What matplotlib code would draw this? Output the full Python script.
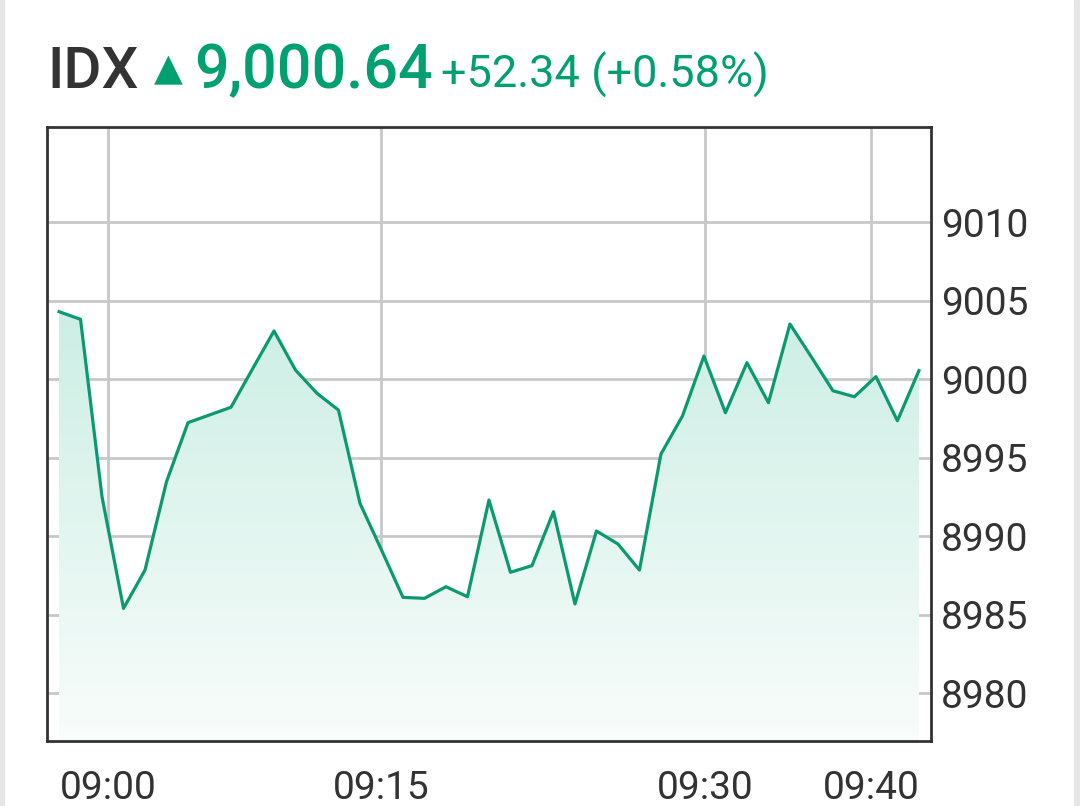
import numpy as np
import matplotlib.pyplot as plt
from matplotlib.patches import Rectangle

plt.rcParams['font.family'] = ['Roboto', 'DejaVu Sans']

# IDX intraday values, one per sample
values = [9004.31, 9003.82, 8992.52, 8985.41, 8987.85, 8993.48, 8997.24, 8997.73,
          8998.22, 9000.66, 9003.08, 9000.59, 8999.11, 8998.04, 8992.10, 8989.13,
          8986.11, 8986.05, 8986.79, 8986.15, 8992.31, 8987.71, 8988.13, 8991.57,
          8985.69, 8990.34, 8989.51, 8987.85, 8995.24, 8997.66, 9001.48, 8997.87,
          9001.06, 8998.51, 9003.52, 9001.42, 8999.27, 8998.89, 9000.17, 8997.36,
          9000.55]
tick_labels = ['09:00', '09:15', '09:30', '09:40']
tick_pos = [2.28, 15.0, 30.05, 37.77]
y_ticks = [8980, 8985, 8990, 8995, 9000, 9005, 9010]

last_value = '9,000.64'
change = '+52.34 (+0.58%)'

green = '#00a070'
line_green = '#0b9a70'
dark = '#333333'

x = np.arange(len(values))
y = np.array(values)

fig = plt.figure(figsize=(10.8, 8.06), dpi=100)
ax = fig.add_axes([0.0435, 0.0806, 0.8185, 0.7618])

ymin, ymax = 8976.96, 9016.07
xmin, xmax = -0.56, 40.56

# gradient fill under the line
grad = np.linspace(0, 1, 256).reshape(-1, 1)
top_col = np.array([0.80, 0.935, 0.895])
bot_col = np.array([0.975, 0.99, 0.985])
img = bot_col + (top_col - bot_col) * grad
img = img.reshape(256, 1, 3)
top_fill = y.max()
im = ax.imshow(img, extent=[x[0], x[-1], ymin, top_fill], origin='lower',
               aspect='auto', zorder=1)
poly = ax.fill_between(x, y, ymin, color='none', lw=0)
im.set_clip_path(poly.get_paths()[0], transform=ax.transData)

ax.plot(x, y, color=line_green, lw=2.3, zorder=3)

ax.set_xlim(xmin, xmax)
ax.set_ylim(ymin, ymax)
ax.set_xticks(tick_pos)
ax.set_xticklabels(tick_labels)
ax.set_yticks(y_ticks)
ax.yaxis.tick_right()
ax.tick_params(axis='both', length=0, labelsize=28, labelcolor=dark)
ax.tick_params(axis='x', pad=21)
ax.tick_params(axis='y', pad=7)
ax.grid(True, color='#c8c8c8', lw=2, zorder=0)
ax.set_axisbelow(True)
for s in ax.spines.values():
    s.set_color(dark)
    s.set_linewidth(2)
    s.set_zorder(5)

# header
fig.text(47 / 1080, 1 - 88 / 806, 'IDX', fontsize=42, color=dark,
         fontweight='medium', va='baseline', ha='left')
fig.text(154 / 1080, 1 - 80 / 806, '▲', fontsize=27, color=green,
         va='baseline', ha='left', family=['DejaVu Sans'])
fig.text(194 / 1080, 1 - 88 / 806, last_value, fontsize=44, color=green,
         fontweight='medium', va='baseline', ha='left')
fig.text(441 / 1080, 1 - 88 / 806, change, fontsize=32.5, color=green,
         va='baseline', ha='left')

# screen edges
fig.patches.append(Rectangle((0, 0), 4 / 1080, 1, transform=fig.transFigure,
                             color='#e6e6e6', zorder=0))
fig.patches.append(Rectangle((1 - 6 / 1080, 0), 6 / 1080, 1, transform=fig.transFigure,
                             color='#e6e6e6', zorder=0))

fig.savefig('out.png', dpi=100)
